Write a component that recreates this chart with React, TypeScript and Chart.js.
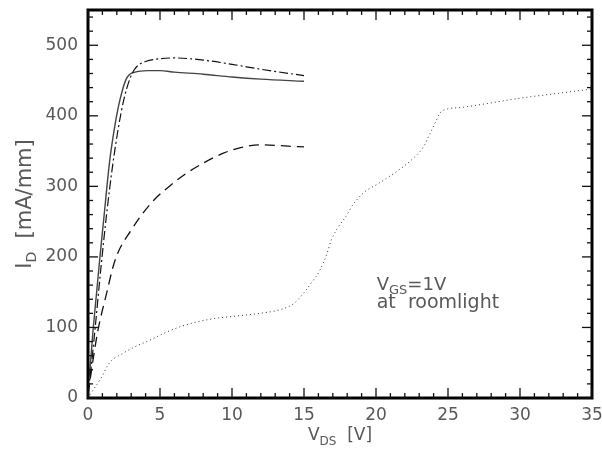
import React, { useEffect, useRef } from "react";
import { Chart, registerables } from "chart.js";

Chart.register(...registerables);

// ---- data (V_DS in volts, I_D in mA/mm) ----
const solidV = [0, 0.15, 0.35, 0.6, 0.83, 1.1, 1.5, 1.8, 2.1, 2.4, 2.65, 2.85, 3.1, 3.5, 4.2, 5, 6, 8, 10, 12, 15];
const solidI = [22, 45, 96, 150, 200, 255, 335, 378, 412, 437, 452, 458, 461, 463, 464, 464, 462, 459, 455, 452, 449];

const dashDotV = [0, 0.2, 0.5, 0.9, 1.3, 1.7, 2.1, 2.5, 2.9, 3.2, 3.5, 4, 5, 6, 8, 10, 12, 15];
const dashDotI = [8, 40, 100, 185, 262, 328, 382, 424, 452, 465, 472, 477, 481, 482, 479, 473, 466, 457];

const dashedV = [0, 0.35, 0.7, 1.3, 1.74, 2.1, 3.0, 3.7, 4.6, 5.7, 6.8, 8.1, 9.4, 10.6, 12.0, 13.9, 15];
const dashedI = [5, 54, 97, 149, 186, 207, 238, 259, 281, 301, 318, 334, 347, 355, 359, 357, 356];

const dottedV = [0, 0.35, 0.9, 1.5, 2.4, 3.3, 4.3, 5.3, 6.4, 7.6, 8.9, 10.2, 11.9, 13.3, 14.3, 14.95, 15.5, 16.1, 16.6, 16.9, 17.4, 17.9, 18.4, 19.2, 20, 20.7, 21.9, 22.6, 23.3, 23.75, 24.2, 24.45, 24.7, 26, 27.9, 30, 32.3, 35];
const dottedI = [0, 11, 28, 50, 63, 73, 82, 92, 101, 108, 113, 116, 120, 125, 134, 148, 163, 181, 205, 224, 243, 257, 274, 292, 302, 311, 328, 340, 356, 375, 394, 404, 408, 412, 418, 425, 431, 438];

const xRange = [0, 35];
const yRange = [0, 550];
const xMajorStep = 5;
const yMajorStep = 100;
const xMinorStep = 1;
const yMinorStep = 20;

const xTitle = [
  { t: "V", sub: false },
  { t: "DS", sub: true },
  { t: "  [V]", sub: false },
];
const yTitle = [
  { t: "I", sub: false },
  { t: "D", sub: true },
  { t: "  [mA/mm]", sub: false },
];
const noteLine1 = [
  { t: "V", sub: false },
  { t: "GS", sub: true },
  { t: "=1V", sub: false },
];
const noteLine2 = [{ t: "at  roomlight", sub: false }];
const noteAnchorV = 20.05; // left edge of the note, in V
const noteLine1I = 153; // baseline of first note line, in mA/mm
const noteLine2I = 128; // baseline of second note line, in mA/mm

const FONT = "'DejaVu Sans', 'Liberation Sans', sans-serif";
const TEXT_COLOR = "#585858";

type Part = { t: string; sub: boolean };

function drawParts(
  ctx: CanvasRenderingContext2D,
  parts: Part[],
  x: number,
  y: number,
  size: number,
  subSize: number,
  subOffset: number,
  align: "left" | "center"
) {
  const widths = parts.map((p) => {
    ctx.font = `${p.sub ? subSize : size}px ${FONT}`;
    return ctx.measureText(p.t).width;
  });
  const total = widths.reduce((a, b) => a + b, 0);
  let cx = align === "center" ? x - total / 2 : x;
  ctx.textAlign = "left";
  ctx.textBaseline = "alphabetic";
  parts.forEach((p, i) => {
    ctx.font = `${p.sub ? subSize : size}px ${FONT}`;
    ctx.fillText(p.t, cx, y + (p.sub ? subOffset : 0));
    cx += widths[i];
  });
}

const framePlugin = {
  id: "frameAndText",
  afterDraw(chart: any) {
    const ctx: CanvasRenderingContext2D = chart.ctx;
    const area = chart.chartArea;
    const left = area.left;
    const right = area.right;
    const top = area.top;
    const bottom = area.bottom;
    const xs = chart.scales.x;
    const ys = chart.scales.y;
    ctx.save();
    ctx.setLineDash([]);
    ctx.globalCompositeOperation = "source-over";
    ctx.globalAlpha = 1;
    // thick frame
    ctx.strokeStyle = "#000";
    ctx.lineWidth = 3;
    ctx.strokeRect(left, top, right - left, bottom - top);
    // inner tick marks on all four sides
    ctx.fillStyle = "#111";
    const tw = 1.3;
    const xCount = Math.floor((xRange[1] - xRange[0]) / xMinorStep + 1e-9);
    const xEvery = Math.round(xMajorStep / xMinorStep);
    for (let i = 0; i <= xCount; i++) {
      const v = xRange[0] + i * xMinorStep;
      const px = xs.getPixelForValue(v);
      const len = i % xEvery === 0 ? 10 : 5;
      ctx.fillRect(px - tw / 2, bottom - len, tw, len);
      ctx.fillRect(px - tw / 2, top, tw, len);
    }
    const yCount = Math.floor((yRange[1] - yRange[0]) / yMinorStep + 1e-9);
    const yEvery = Math.round(yMajorStep / yMinorStep);
    for (let i = 0; i <= yCount; i++) {
      const v = yRange[0] + i * yMinorStep;
      const py = ys.getPixelForValue(v);
      const len = i % yEvery === 0 ? 10 : 5;
      ctx.fillRect(left, py - tw / 2, len, tw);
      ctx.fillRect(right - len, py - tw / 2, len, tw);
    }

    // axis titles
    ctx.fillStyle = TEXT_COLOR;
    drawParts(ctx, xTitle, (left + right) / 2, 440, 17, 12, 5, "center");
    ctx.save();
    ctx.translate(31, (top + bottom) / 2);
    ctx.rotate(-Math.PI / 2);
    drawParts(ctx, yTitle, 0, 0, 21, 14, 5, "center");
    ctx.restore();

    // note
    const nx = xs.getPixelForValue(noteAnchorV);
    drawParts(ctx, noteLine1, nx, ys.getPixelForValue(noteLine1I), 18, 13, 4, "left");
    drawParts(ctx, noteLine2, nx, ys.getPixelForValue(noteLine2I), 19, 13, 4, "left");
    ctx.restore();
  },
};

const pts = (xs: number[], ys: number[]) => xs.map((x, i) => ({ x, y: ys[i] }));

export default function App() {
  const ref = useRef<HTMLCanvasElement>(null);

  useEffect(() => {
    document.body.style.margin = "0";
    const canvas = ref.current;
    if (!canvas) return;
    const tickFont = { family: FONT, size: 17 };
    const chart = new Chart(canvas, {
      type: "line",
      data: {
        datasets: [
          {
            data: pts(dottedV, dottedI),
            borderColor: "#333",
            borderWidth: 1,
            borderDash: [1, 3],
            pointRadius: 0,
            cubicInterpolationMode: "monotone",
            fill: false,
          },
          {
            data: pts(dashedV, dashedI),
            borderColor: "#111",
            borderWidth: 1.3,
            borderDash: [10, 6],
            pointRadius: 0,
            cubicInterpolationMode: "monotone",
            fill: false,
          },
          {
            data: pts(dashDotV, dashDotI),
            borderColor: "#111",
            borderWidth: 1.2,
            borderDash: [9, 3, 2, 3],
            pointRadius: 0,
            cubicInterpolationMode: "monotone",
            fill: false,
          },
          {
            data: pts(solidV, solidI),
            borderColor: "#444",
            borderWidth: 1.4,
            pointRadius: 0,
            cubicInterpolationMode: "monotone",
            fill: false,
          },
        ],
      } as any,
      options: {
        responsive: false,
        animation: false,
        layout: { padding: { top: 10, right: 10, left: 0, bottom: 0 } },
        plugins: {
          legend: { display: false },
          tooltip: { enabled: false },
        },
        scales: {
          x: {
            type: "linear",
            min: xRange[0],
            max: xRange[1],
            grid: { display: false, drawTicks: false },
            border: { display: false },
            ticks: {
              stepSize: xMajorStep,
              font: tickFont,
              color: TEXT_COLOR,
              padding: 7,
              maxRotation: 0,
            },
            afterFit: (s: any) => {
              s.height = 57;
              s.paddingLeft = 0;
              s.paddingRight = 0;
            },
          },
          y: {
            type: "linear",
            min: yRange[0],
            max: yRange[1],
            grid: { display: false, drawTicks: false },
            border: { display: false },
            ticks: {
              stepSize: yMajorStep,
              includeBounds: false,
              font: tickFont,
              color: TEXT_COLOR,
              padding: 10,
            },
            afterFit: (s: any) => {
              s.width = 88;
              s.paddingTop = 0;
              s.paddingBottom = 0;
            },
          },
        },
      } as any,
      plugins: [framePlugin],
    });
    return () => chart.destroy();
  }, []);

  return (
    <canvas
      ref={ref}
      width={602}
      height={455}
      style={{ display: "block", width: 602, height: 455 }}
    />
  );
}
